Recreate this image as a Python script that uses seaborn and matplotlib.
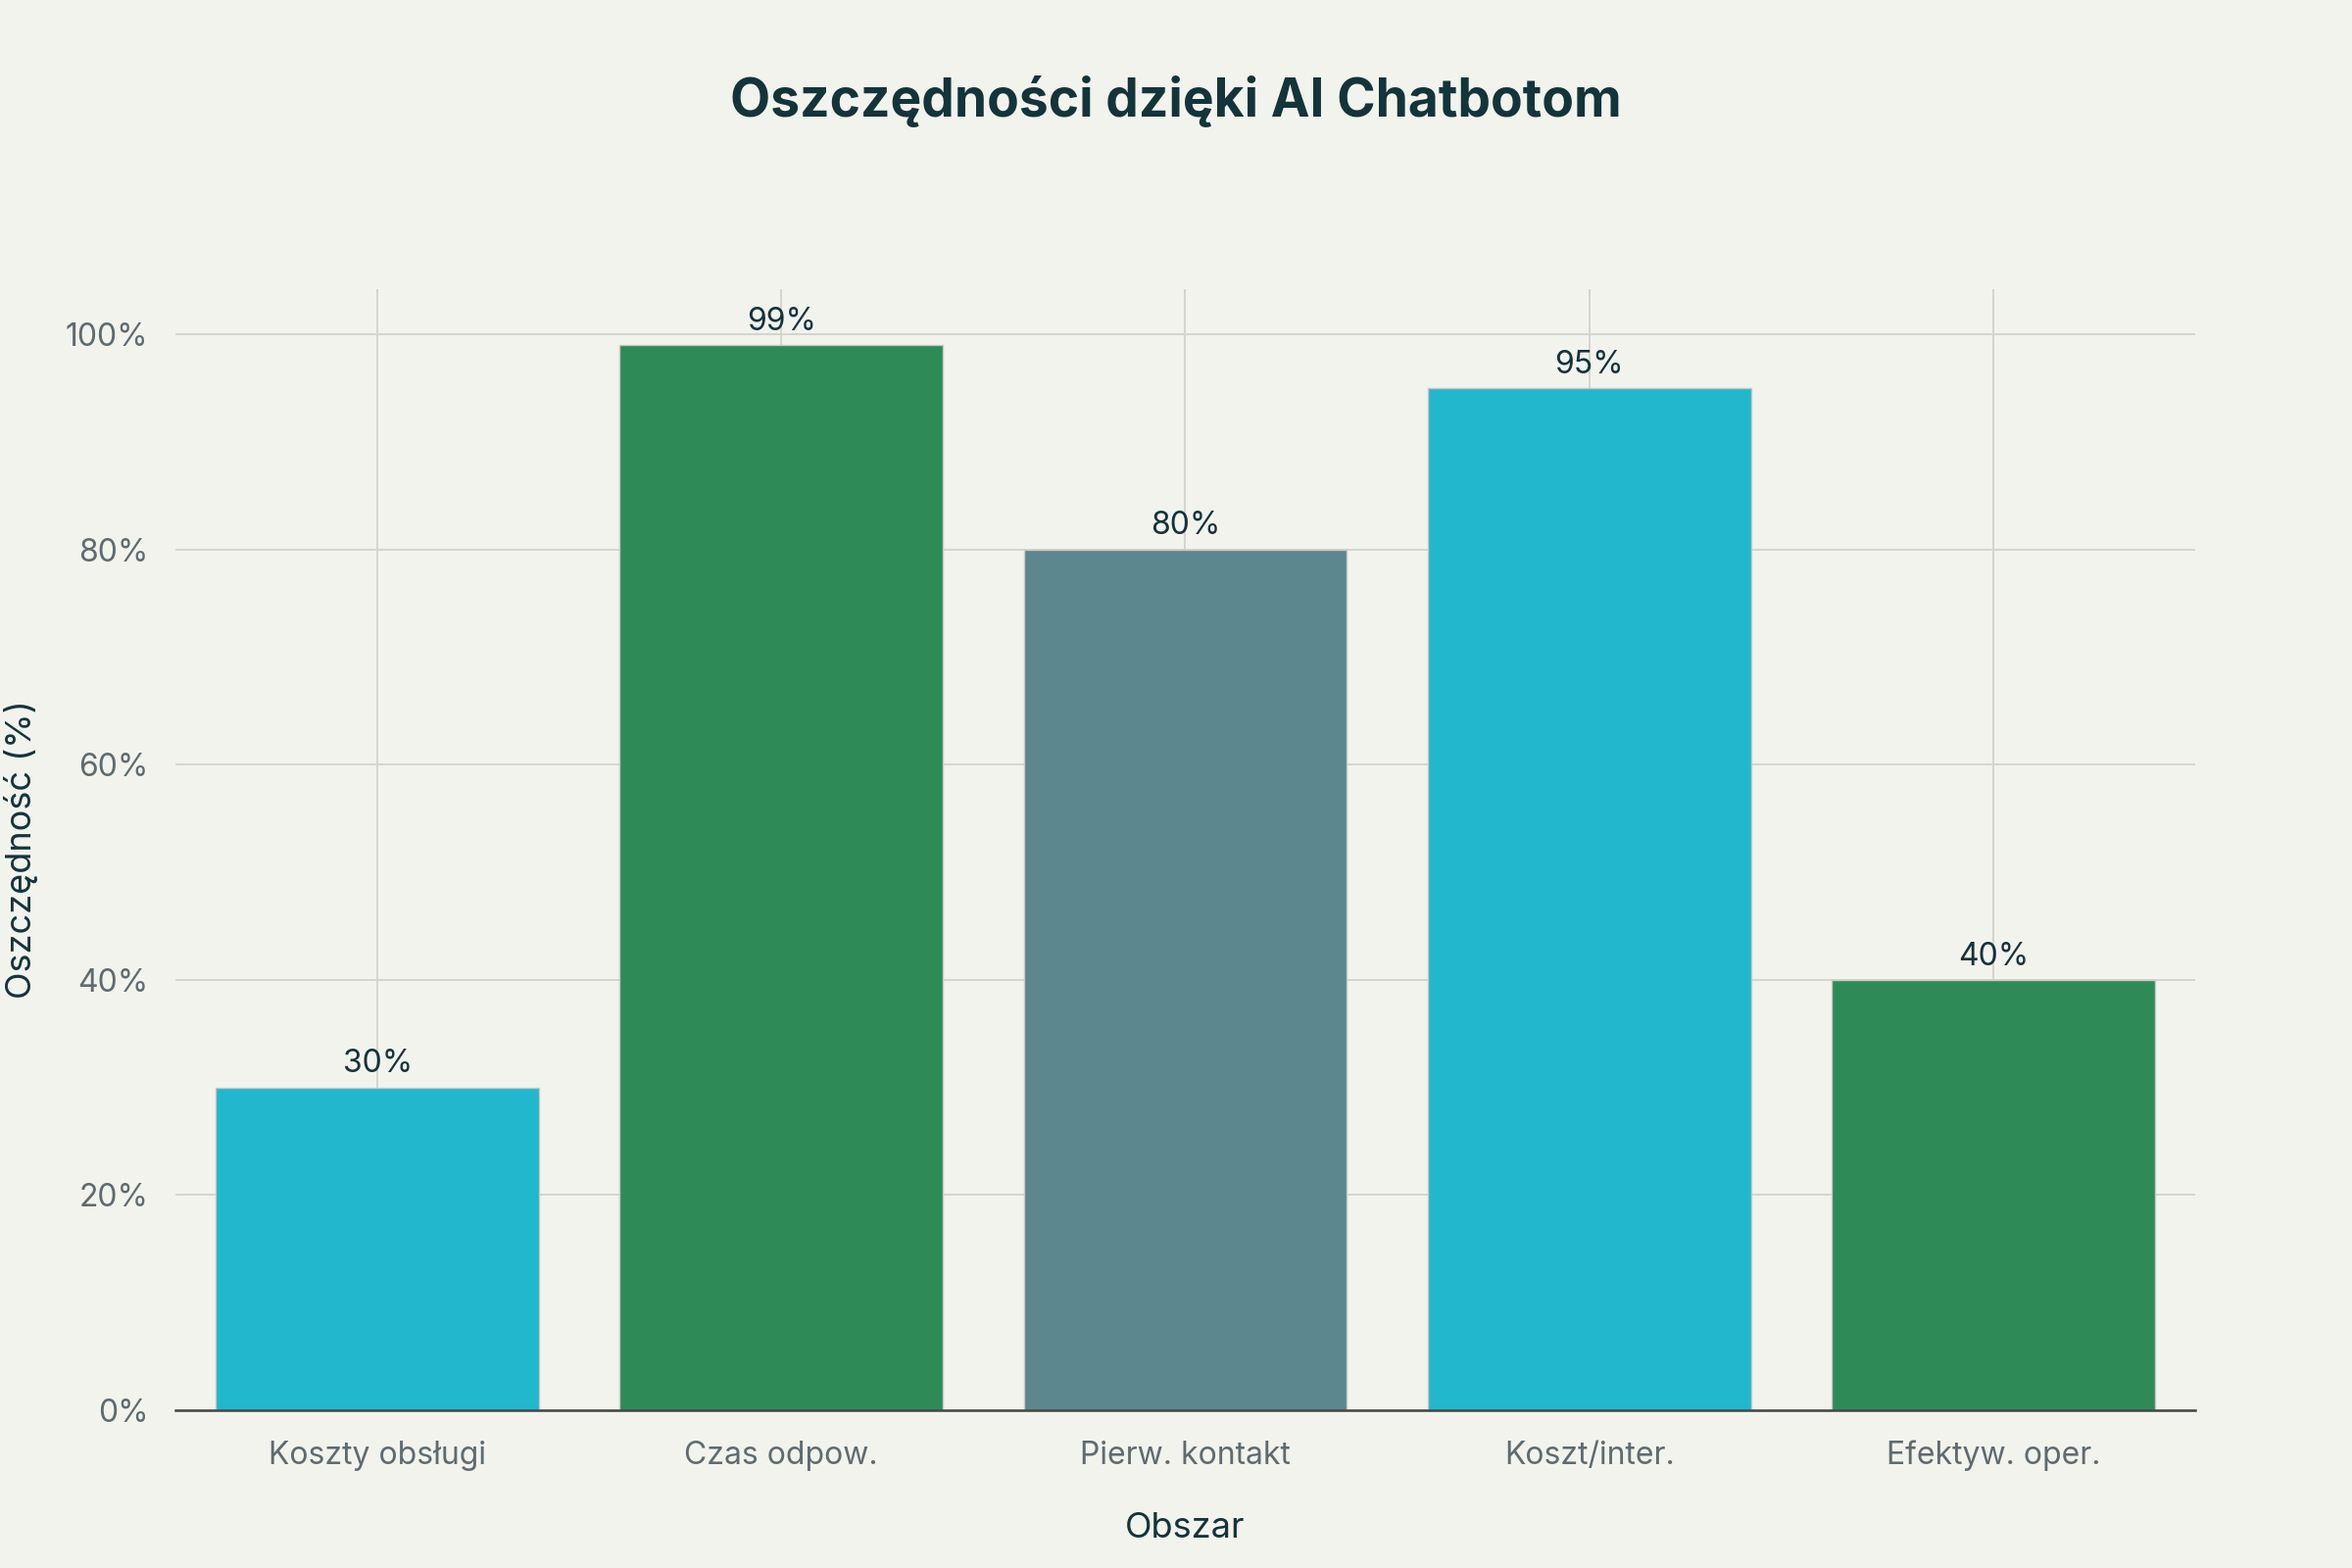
import matplotlib
matplotlib.use("Agg")
import matplotlib.pyplot as plt
import seaborn as sns
import pandas as pd
from matplotlib.ticker import FuncFormatter

categories = ["Koszty obsługi", "Czas odpow.", "Pierw. kontakt", "Koszt/inter.", "Efektyw. oper."]
values = [30, 99, 80, 95, 40]
bar_colors = ["#21B8CD", "#2E8B57", "#5D878F", "#21B8CD", "#2E8B57"]
y_ticks = [0, 20, 40, 60, 80, 100]

title = "Oszczędności dzięki AI Chatbotom"
x_label = "Obszar"
y_label = "Oszczędność (%)"

BG = "#F3F3EE"
DARK = "#13343B"
GREY = "#5F6B70"
GRID = "#D5D5D0"

sns.set_theme(style="white")
plt.rcParams["font.family"] = ["Inter", "DejaVu Sans"]

df = pd.DataFrame({"cat": categories, "val": values})

fig = plt.figure(figsize=(12, 8), dpi=200, facecolor=BG)
ax = fig.add_axes([0.0746, 0.1006, 0.8587, 0.715])
ax.set_facecolor(BG)

sns.barplot(data=df, x="cat", y="val", hue="cat", palette=bar_colors,
            legend=False, width=0.8, edgecolor="#C8C8C4", linewidth=0.5,
            saturation=1, ax=ax, zorder=3)

ax.set_xlim(-0.5, len(categories) - 0.5)
ax.set_ylim(0, 104.2)
ax.set_yticks(y_ticks)
ax.yaxis.set_major_formatter(FuncFormatter(lambda v, p: f"{v:.0f}%"))

ax.grid(True, axis="both", color=GRID, linewidth=0.7, zorder=0)
ax.set_axisbelow(True)
for s in ["top", "right", "left"]:
    ax.spines[s].set_visible(False)
ax.spines["bottom"].set_color("#444444")
ax.spines["bottom"].set_linewidth(0.9)
ax.spines["bottom"].set_zorder(4)

ax.tick_params(axis="y", length=4, width=0.7, color=GRID, pad=6,
               labelsize=11.5, labelcolor=GREY)
ax.tick_params(axis="x", length=4, width=0.7, color=GRID, pad=7,
               labelsize=11.5, labelcolor=GREY)

for cont in ax.containers:
    ax.bar_label(cont, labels=[f"{v:.0f}%" for v in cont.datavalues],
                 padding=3, fontsize=11.5, color=DARK)

ax.set_xlabel(x_label, fontsize=13, color=DARK, labelpad=15)
ax.set_ylabel(y_label, fontsize=13, color=DARK, labelpad=10)

fig.suptitle(title, x=0.5, y=0.952, fontsize=19.2, fontweight="bold", color=DARK)

fig.savefig("out.png", dpi=200, facecolor=BG)
